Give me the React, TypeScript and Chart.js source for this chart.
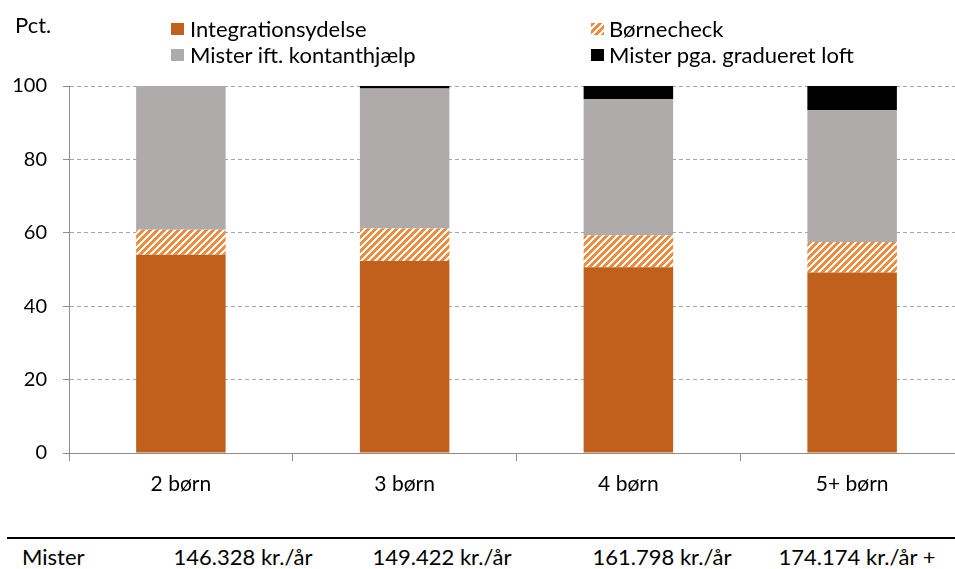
import React, { useEffect, useRef } from 'react';
import { Chart, registerables } from 'chart.js';

Chart.register(...registerables);

// ---- data ----
const categories = ['2 børn', '3 børn', '4 børn', '5+ børn'];
const integrationsydelse = [54.0, 52.3, 50.6, 49.2];
const boernecheck = [6.8, 8.9, 8.7, 8.3];
const misterKontanthjaelp = [39.2, 38.1, 37.1, 35.9];
const misterLoft = [0, 0.7, 3.6, 6.6];
const seriesNames = ['Integrationsydelse', 'Børnecheck', 'Mister ift. kontanthjælp', 'Mister pga. gradueret loft'];
const yTicks = [0, 20, 40, 60, 80, 100];
const tableRowLabel = 'Mister';
const tableValues = ['146.328 kr./år', '149.422 kr./år', '161.798 kr./år', '174.174 kr./år +'];

// ---- styles ----
const FONT = 'Lato, "Open Sans", sans-serif';
const FS = 22;
const FS_X = 21;
const FS_Y = 20;
const C_INT = '#C0601C';
const C_HATCH = '#F08A3C';
const C_GREY = '#AFABAB';
const C_BLACK = '#000000';
const tableCenters = [243, 442, 662, 857];

function hatchTile(): HTMLCanvasElement {
  const c = document.createElement('canvas');
  c.width = 7;
  c.height = 7;
  const g = c.getContext('2d')!;
  g.fillStyle = '#ffffff';
  g.fillRect(0, 0, 7, 7);
  g.fillStyle = C_HATCH;
  for (let y = 0; y < 7; y++) {
    for (let x = 0; x < 7; x++) {
      if ((x + y) % 7 < 4) g.fillRect(x, y, 1, 1);
    }
  }
  return c;
}

function Swatch({ kind, left, top }: { kind: string; left: number; top: number }) {
  const ref = useRef<HTMLCanvasElement | null>(null);
  useEffect(() => {
    const c = ref.current;
    if (!c) return;
    const g = c.getContext('2d')!;
    if (kind === 'hatch') {
      const p = g.createPattern(hatchTile(), 'repeat')!;
      g.fillStyle = p;
    } else {
      g.fillStyle = kind;
    }
    g.fillRect(0, 0, c.width, c.height);
  }, [kind]);
  return (
    <canvas
      ref={ref}
      width={13}
      height={12}
      style={{ position: 'absolute', left, top, width: 13, height: 12 }}
    />
  );
}

function Label({ text, left, cy, center }: { text: string; left: number; cy: number; center?: boolean }) {
  return (
    <div
      style={{
        position: 'absolute',
        left: center ? left - 200 : left,
        width: center ? 400 : undefined,
        textAlign: center ? 'center' : 'left',
        top: cy - 13,
        height: 26,
        lineHeight: '26px',
        fontFamily: FONT,
        fontSize: FS,
        color: '#000',
        whiteSpace: 'nowrap',
      }}
    >
      {text}
    </div>
  );
}

export default function App() {
  const canvasRef = useRef<HTMLCanvasElement | null>(null);

  useEffect(() => {
    const canvas = canvasRef.current;
    if (!canvas) return;
    const ctx = canvas.getContext('2d')!;
    const pattern = ctx.createPattern(hatchTile(), 'repeat')!;

    const chart = new Chart(ctx, {
      type: 'bar',
      data: {
        labels: categories,
        datasets: [
          { label: seriesNames[0], data: integrationsydelse, backgroundColor: C_INT },
          { label: seriesNames[1], data: boernecheck, backgroundColor: pattern as any },
          { label: seriesNames[2], data: misterKontanthjaelp, backgroundColor: C_GREY },
          { label: seriesNames[3], data: misterLoft, backgroundColor: C_BLACK },
        ],
      },
      options: {
        responsive: false,
        animation: false,
        devicePixelRatio: 1,
        layout: { padding: { top: 86, left: 0, right: 11, bottom: 0 } },
        datasets: { bar: { barPercentage: 0.4, categoryPercentage: 1.0, borderWidth: 0 } },
        plugins: { legend: { display: false }, tooltip: { enabled: false }, title: { display: false } },
        scales: {
          x: {
            stacked: true,
            offset: true,
            grid: {
              offset: true,
              drawOnChartArea: false,
              drawTicks: true,
              tickLength: 8,
              tickColor: '#8C8C8C',
              color: '#8C8C8C',
            },
            border: { display: true, color: '#8C8C8C', width: 1 },
            ticks: {
              color: '#000',
              padding: 11,
              maxRotation: 0,
              autoSkip: false,
              font: { family: FONT, size: FS_X },
            },
            afterFit: (scale: any) => {
              scale.height = 62;
            },
          },
          y: {
            stacked: true,
            min: 0,
            max: 100,
            afterBuildTicks: (scale: any) => {
              scale.ticks = yTicks.map((v) => ({ value: v }));
            },
            grid: {
              color: '#A6A6A6',
              tickColor: '#8C8C8C',
              tickLength: 6,
              drawTicks: true,
            },
            border: { display: true, color: '#8C8C8C', width: 1, dash: [4, 3] },
            ticks: {
              color: '#000',
              padding: 16,
              font: { family: FONT, size: FS_Y },
            },
            afterFit: (scale: any) => {
              scale.width = 69;
            },
          },
        },
      },
    });
    return () => chart.destroy();
  }, []);

  return (
    <div
      style={{
        position: 'absolute',
        left: 0,
        top: 0,
        width: 955,
        height: 569,
        overflow: 'hidden',
        background: '#fff',
      }}
    >
      <canvas
        ref={canvasRef}
        width={975}
        height={515}
        style={{ position: 'absolute', left: 0, top: 0, width: 975, height: 515 }}
      />
      <Label text="Pct." left={15} cy={25} />
      <Swatch kind={C_INT} left={171} top={23} />
      <Label text={seriesNames[0]} left={190} cy={29} />
      <Swatch kind="hatch" left={591} top={23} />
      <Label text={seriesNames[1]} left={609} cy={29} />
      <Swatch kind={C_GREY} left={171} top={49} />
      <Label text={seriesNames[2]} left={190} cy={55} />
      <Swatch kind={C_BLACK} left={591} top={49} />
      <Label text={seriesNames[3]} left={609} cy={55} />
      <div style={{ position: 'absolute', left: 7, right: 0, top: 537, height: 2, background: '#000' }} />
      <Label text={tableRowLabel} left={22} cy={557} />
      {tableValues.map((t, i) => (
        <Label key={i} text={t} left={tableCenters[i]} cy={557} center />
      ))}
    </div>
  );
}
